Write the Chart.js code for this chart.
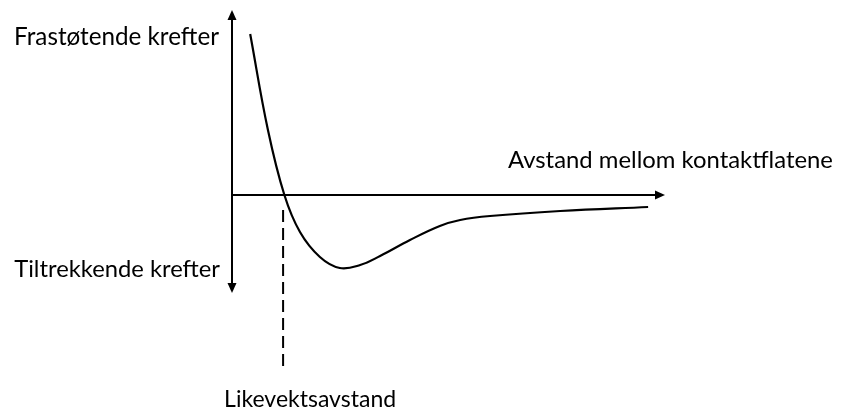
<!DOCTYPE html>
<html><head><meta charset="utf-8">
<script src="https://cdn.jsdelivr.net/npm/chart.js@4/dist/chart.umd.min.js"></script>
<style>html,body{margin:0;padding:0;background:#fff;}#wrap{width:842px;height:412px;}</style>
</head><body><div id="wrap"><canvas id="c" width="842" height="412"></canvas></div>
<script>
// distance (arbitrary units) and force (positive = repulsive, negative = attractive)
const distance = [0.42, 0.83, 1.21, 1.57, 2.03, 2.49, 2.96, 3.42, 4.11, 4.80, 5.27, 5.96, 7.58, 9.61];
const force    = [16.1, 6.5, 0.0, -3.7, -6.2, -7.3, -7.0, -6.1, -4.5, -3.1, -2.5, -2.1, -1.6, -1.2];
const eqDistance = 1.18;
const eqLine = [-1.5, -17.2];
const xRange = [0, 10];
const yRange = [-17.2, 18.5];
const yAxisEnds = [-9.8, 18.5];
const labels = {
  repulsive: "Frastøtende krefter",
  attractive: "Tiltrekkende krefter",
  distanceLabel: "Avstand mellom kontaktflatene",
  equilibrium: "Likevektsavstand"
};

const FONT = 'Lato, "Open Sans", sans-serif';
function fitFont(ctx, text, width, maxSize) {
  ctx.font = '100px ' + FONT;
  const w = ctx.measureText(text).width;
  return Math.min(maxSize, 100 * width / w);
}

const axesPlugin = {
  id: 'arrowAxes',
  beforeDatasetsDraw(chart) {
    const ctx = chart.ctx, xs = chart.scales.x, ys = chart.scales.y;
    const x0 = xs.getPixelForValue(0), y0 = ys.getPixelForValue(0);
    const yTop = ys.getPixelForValue(yAxisEnds[1]), yBot = ys.getPixelForValue(yAxisEnds[0]);
    const xEnd = xs.getPixelForValue(xRange[1]);
    ctx.save();
    ctx.strokeStyle = '#000'; ctx.fillStyle = '#000'; ctx.lineWidth = 2;
    ctx.beginPath(); ctx.moveTo(x0, yTop + 8); ctx.lineTo(x0, yBot - 8); ctx.stroke();
    ctx.beginPath(); ctx.moveTo(x0, y0); ctx.lineTo(xEnd - 8, y0); ctx.stroke();
    ctx.beginPath(); ctx.moveTo(x0, yTop); ctx.lineTo(x0 - 4.5, yTop + 10); ctx.lineTo(x0 + 4.5, yTop + 10); ctx.closePath(); ctx.fill();
    ctx.beginPath(); ctx.moveTo(x0, yBot); ctx.lineTo(x0 - 4.5, yBot - 10); ctx.lineTo(x0 + 4.5, yBot - 10); ctx.closePath(); ctx.fill();
    ctx.beginPath(); ctx.moveTo(xEnd, y0); ctx.lineTo(xEnd - 10, y0 - 4.5); ctx.lineTo(xEnd - 10, y0 + 4.5); ctx.closePath(); ctx.fill();
    ctx.restore();
  },
  afterDraw(chart) {
    const ctx = chart.ctx, xs = chart.scales.x, ys = chart.scales.y;
    const x0 = xs.getPixelForValue(0), y0 = ys.getPixelForValue(0);
    const xEq = xs.getPixelForValue(eqDistance);
    ctx.save();
    ctx.fillStyle = '#000';
    ctx.textBaseline = 'alphabetic';
    let s;
    s = fitFont(ctx, labels.repulsive, 205, 26);
    ctx.font = s + 'px ' + FONT; ctx.textAlign = 'right';
    ctx.fillText(labels.repulsive, x0 - 13, 45);
    s = fitFont(ctx, labels.attractive, 206, 26);
    ctx.font = s + 'px ' + FONT;
    ctx.fillText(labels.attractive, x0 - 12, 277);
    s = fitFont(ctx, labels.distanceLabel, 325, 26);
    ctx.font = s + 'px ' + FONT; ctx.textAlign = 'left';
    ctx.fillText(labels.distanceLabel, 508, y0 - 27);
    ctx.font = '23px ' + FONT; ctx.textAlign = 'center';
    ctx.fillText(labels.equilibrium, xEq + 27, 407);
    ctx.restore();
  }
};

new Chart(document.getElementById('c'), {
  type: 'scatter',
  data: {
    datasets: [
      {
        data: distance.map((d, i) => ({x: d, y: force[i]})),
        showLine: true, borderColor: '#000', borderWidth: 2.2, pointRadius: 0,
        tension: 0.4, fill: false
      },
      {
        data: eqLine.map(v => ({x: eqDistance, y: v})),
        showLine: true, borderColor: '#000', borderWidth: 2, pointRadius: 0,
        borderDash: [12, 6]
      }
    ]
  },
  options: {
    responsive: false, animation: false, devicePixelRatio: 1,
    layout: { padding: { left: 232, right: 177, top: 10, bottom: 45 } },
    plugins: { legend: { display: false }, tooltip: { enabled: false } },
    scales: {
      x: { type: 'linear', min: xRange[0], max: xRange[1], display: false },
      y: { type: 'linear', min: yRange[0], max: yRange[1], display: false }
    }
  },
  plugins: [axesPlugin]
});
</script></body></html>
